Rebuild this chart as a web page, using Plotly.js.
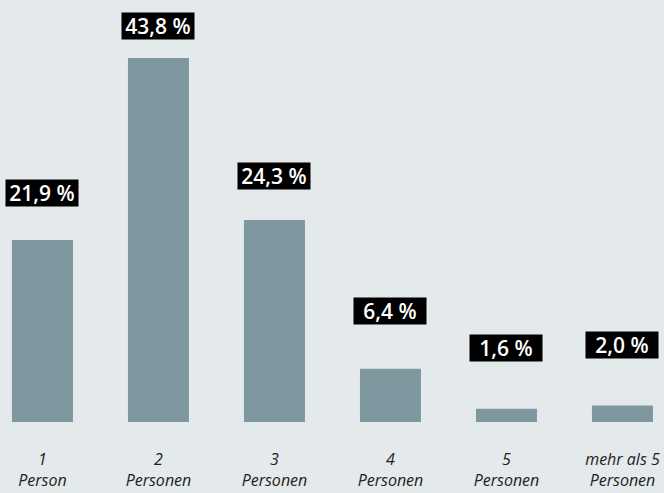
<!DOCTYPE html>
<html>
<head>
<meta charset="utf-8">
<script src="https://cdn.plot.ly/plotly-3.0.1.min.js"></script>
<style>html,body{margin:0;padding:0;background:#e4e9ec;}#chart{width:664px;height:493px;}</style>
</head>
<body>
<div id="chart"></div>
<script>
var categories = ["1<br>Person", "2<br>Personen", "3<br>Personen", "4<br>Personen", "5<br>Personen", "mehr als 5<br>Personen"];
var shares = [21.9, 43.8, 24.3, 6.4, 1.6, 2.0];
var valueLabels = ["21,9 %", "43,8 %", "24,3 %", "6,4 %", "1,6 %", "2,0 %"];
var labelGaps = [33, 18, 30, 44, 47, 46];

var trace = {
  type: "bar",
  x: categories,
  y: shares,
  marker: {color: "#7f979e"},
  hoverinfo: "none"
};

var annotations = categories.map(function(c, i){
  return {
    x: c, y: shares[i], xref: "x", yref: "y",
    yanchor: "bottom", xanchor: "center",
    yshift: labelGaps[i],
    text: valueLabels[i],
    showarrow: false,
    bgcolor: "#000000",
    width: 70, height: 24,
    borderpad: 1,
    font: {family: "Open Sans", size: 21, weight: 600, color: "#ffffff"}
  };
});

var layout = {
  width: 664, height: 493,
  margin: {l: 0, r: 0, t: 0, b: 71},
  paper_bgcolor: "#e4e9ec",
  plot_bgcolor: "#e4e9ec",
  bargap: 0.474,
  showlegend: false,
  xaxis: {
    type: "category",
    range: [-0.366, 5.358],
    showgrid: false, zeroline: false, showline: false,
    ticks: "",
    ticklabelstandoff: 26,
    tickfont: {family: "Open Sans", size: 16, color: "#222222", style: "italic"}
  },
  yaxis: {
    range: [0, 50.78],
    showgrid: false, zeroline: false, showline: false,
    showticklabels: false, ticks: ""
  },
  annotations: annotations
};

Plotly.newPlot("chart", [trace], layout, {displayModeBar: false, staticPlot: true});
</script>
</body>
</html>
